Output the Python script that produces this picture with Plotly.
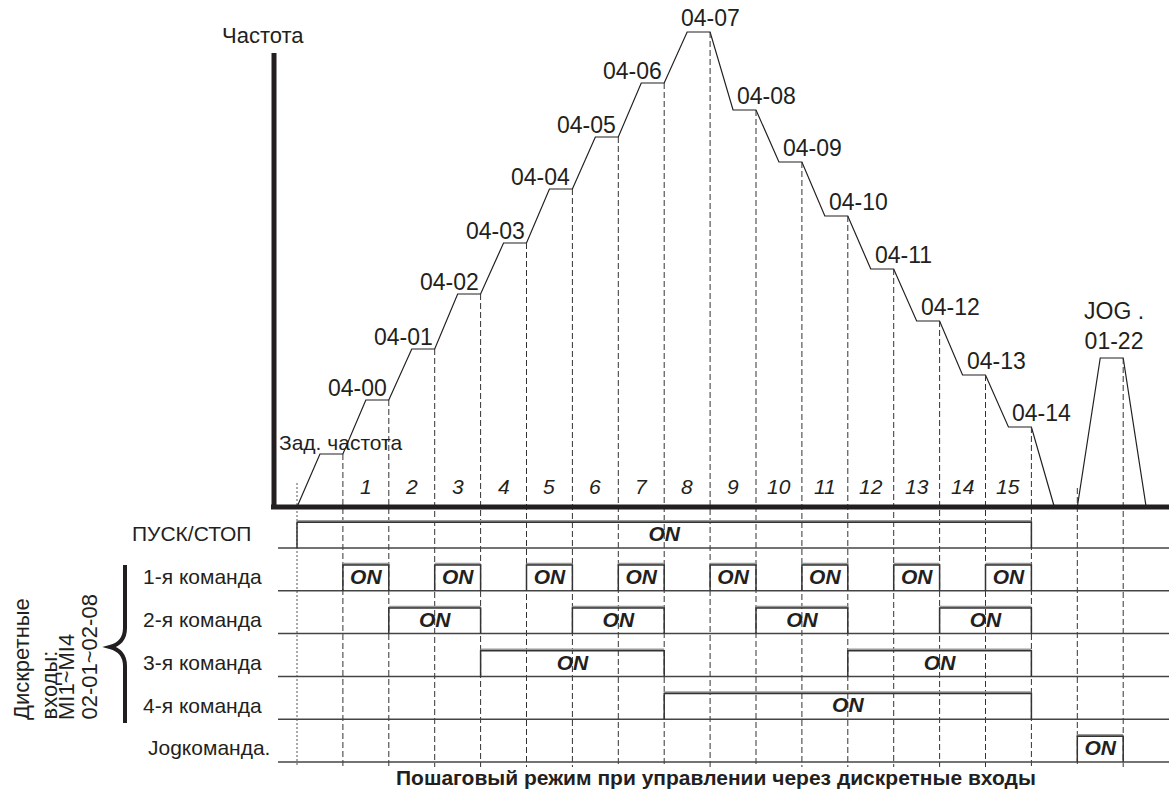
import plotly.graph_objects as go

# Frequency levels (relative units, 0 = zero frequency) for each step
level_names = [
    "Зад. частота", "04-00", "04-01", "04-02", "04-03", "04-04", "04-05", "04-06",
    "04-07", "04-08", "04-09", "04-10", "04-11", "04-12", "04-13", "04-14",
]
level_values = [53, 107, 158, 213, 264, 318, 370, 424, 475, 397, 345, 291, 238, 186, 132, 80]
step_numbers = list(range(1, 16))

jog_label = "JOG .<br>01-22"
jog_value = 149
jog_start, jog_end = 17, 18

# Input signals (ON intervals in step units)
row_labels = ["ПУСК/СТОП", "1-я команда", "2-я команда", "3-я команда", "4-я команда", "Jogкоманда."]
on_intervals = [
    [(0, 16)],
    [(1, 2), (3, 4), (5, 6), (7, 8), (9, 10), (11, 12), (13, 14), (15, 16)],
    [(2, 4), (6, 8), (10, 12), (14, 16)],
    [(4, 8), (12, 16)],
    [(8, 16)],
    [(17, 18)],
]

title = "Пошаговый режим при управлении через дискретные входы"
side_lines = ["Дискретные", "входы:", "MI1~MI4", "02-01~02-08"]

W, H = 1169, 803
X0, DX = 297, 45.9          # pixel of step 0, pixels per step
BASE, DF = 507, 1.0         # frequency axis
ROW0, DR = 548, 42.8        # timing rows
RAMP = 0.5
FONT = "Arial, Liberation Sans, sans-serif"
INK = "#231f20"

fig = go.Figure()

# frequency curve
fx, fy = [0], [0]
for k, v in enumerate(level_values):
    fx += [k + RAMP, k + 1]
    fy += [v, v]
fx.append(len(level_values) + RAMP)
fy.append(0)
fig.add_trace(go.Scatter(x=fx, y=fy, mode="lines", line=dict(color=INK, width=1.2)))
fig.add_trace(go.Scatter(
    x=[jog_start, jog_start + RAMP, jog_end, jog_end + RAMP],
    y=[0, jog_value, jog_value, 0],
    mode="lines", line=dict(color=INK, width=1.2),
))

# dashed step boundaries
bottom = -260
dx_, dy_ = [], []
for t in range(1, len(level_values) + 1):
    dx_ += [t, t, None]
    dy_ += [level_values[t - 1], bottom, None]
dx_ += [jog_start, jog_start, None, jog_end, jog_end]
dy_ += [19, bottom, None, jog_value, bottom]
fig.add_trace(go.Scatter(x=dx_, y=dy_, mode="lines",
                         line=dict(color="#333333", width=1, dash="6px,3px")))
fig.add_trace(go.Scatter(x=[0, 0], y=[24, bottom], mode="lines",
                         line=dict(color="#555555", width=1, dash="2px,2px")))

# timing rows
box_h = 0.6
lx, ly = [], []
for r in range(len(row_labels)):
    lx += [(278 - X0) / DX, 20, None]
    ly += [r, r, None]
fig.add_trace(go.Scatter(x=lx, y=ly, yaxis="y2", mode="lines",
                         line=dict(color="#444444", width=1.5)))
bx, by, sx, sy, tx, ty = [], [], [], [], [], []
for r, spans in enumerate(on_intervals):
    for a, b in spans:
        bx += [a, a, b, b, None]
        by += [r, r - box_h, r - box_h, r, None]
        sx += [a, b, None]
        sy += [r - box_h - 0.03, r - box_h - 0.03, None]
        tx.append((a + b) / 2)
        ty.append(r - 0.28)
# soft grey shadow along the top edge of each pulse
fig.add_trace(go.Scatter(x=sx, y=sy, yaxis="y2", mode="lines",
                         line=dict(color="#9a9a9a", width=2)))
fig.add_trace(go.Scatter(x=bx, y=by, yaxis="y2", mode="lines",
                         line=dict(color="#333333", width=1.5)))
fig.add_trace(go.Scatter(
    x=tx, y=ty, yaxis="y2", mode="text", text=["ON"] * len(tx),
    textfont=dict(family=FONT, size=21, color=INK, weight="bold", style="italic"),
))

# thick axes
fig.add_shape(type="line", x0=(274 - X0) / DX, x1=(274 - X0) / DX, y0=-2, y1=454,
              line=dict(color=INK, width=5))
fig.add_shape(type="line", x0=(271 - X0) / DX, x1=20, y0=0, y1=0,
              line=dict(color=INK, width=5))

ann = []
# level labels
for k, (name, v) in enumerate(zip(level_names, level_values)):
    if k == 0:
        a = dict(x=(277 - X0) / DX, y=v + 12, xanchor="left")
    elif k <= 7:
        a = dict(x=k + 1, y=v + 12, xanchor="right")
    elif k == 8:
        a = dict(x=k + 1, y=v + 14, xanchor="center")
    else:
        a = dict(x=k + RAMP, y=v + 14, xanchor="left", xshift=2)
    size = 21 if k == 0 else 23
    ann.append(dict(a, text=name, yanchor="middle", showarrow=False,
                    font=dict(family=FONT, size=size, color=INK)))
ann.append(dict(x=(jog_start + jog_end + RAMP) / 2 + 0.05, y=jog_value + 2, text=jog_label,
                xanchor="center", yanchor="bottom", showarrow=False,
                font=dict(family=FONT, size=23, color=INK)))

# step numbers
for n in step_numbers:
    ann.append(dict(x=n + 0.5, y=21, text=str(n), showarrow=False,
                    font=dict(family=FONT, size=21, color=INK, style="italic")))

ann.append(dict(x=(263 - X0) / DX, y=BASE - 35, text="Частота", showarrow=False,
                xanchor="center", yanchor="middle",
                font=dict(family=FONT, size=22, color=INK)))

# row labels
for r, lab in enumerate(row_labels):
    right = {0: 253, 5: 272}.get(r, 264)
    ann.append(dict(x=(right - X0) / DX, y=r - 0.33, yref="y2", text=lab, xanchor="right",
                    yanchor="middle", showarrow=False,
                    font=dict(family=FONT, size=21, color=INK)))

# rotated side label, one column per line
for line, xc in zip(side_lines, [21, 49, 66, 89]):
    ann.append(dict(xref="paper", yref="paper", x=xc / W, y=1 - 722 / H, text=line,
                    textangle=-90, xanchor="center", yanchor="bottom", showarrow=False,
                    font=dict(family=FONT, size=22, color=INK)))
ann.append(dict(xref="paper", yref="paper", x=716 / W, y=1 - 777 / H, text=title,
                xanchor="center", yanchor="middle", showarrow=False,
                font=dict(family=FONT, size=21, color=INK, weight="bold")))
fig.update_layout(annotations=ann)

# brace
def p(x, y):
    return f"{x / W:.5f},{1 - y / H:.5f}"

fig.add_shape(type="path", xref="paper", yref="paper",
              path=f"M {p(125, 565)} L {p(125, 628)} Q {p(125, 643)} {p(110, 647)} "
                   f"Q {p(125, 651)} {p(125, 666)} L {p(125, 723)}",
              line=dict(color=INK, width=4))

fig.update_layout(
    width=W, height=H, margin=dict(l=0, r=0, t=0, b=0),
    paper_bgcolor="white", plot_bgcolor="white", showlegend=False,
    xaxis=dict(range=[-X0 / DX, (W - X0) / DX], visible=False, fixedrange=True),
    yaxis=dict(range=[-(H - BASE) / DF, BASE / DF], visible=False, fixedrange=True),
    yaxis2=dict(range=[(H - ROW0) / DR, -ROW0 / DR], overlaying="y", visible=False,
                fixedrange=True),
)

fig.write_html("out.html", config={"displayModeBar": False},
               post_script="document.body.style.margin='0px';"
                           "document.body.style.overflow='hidden';")
